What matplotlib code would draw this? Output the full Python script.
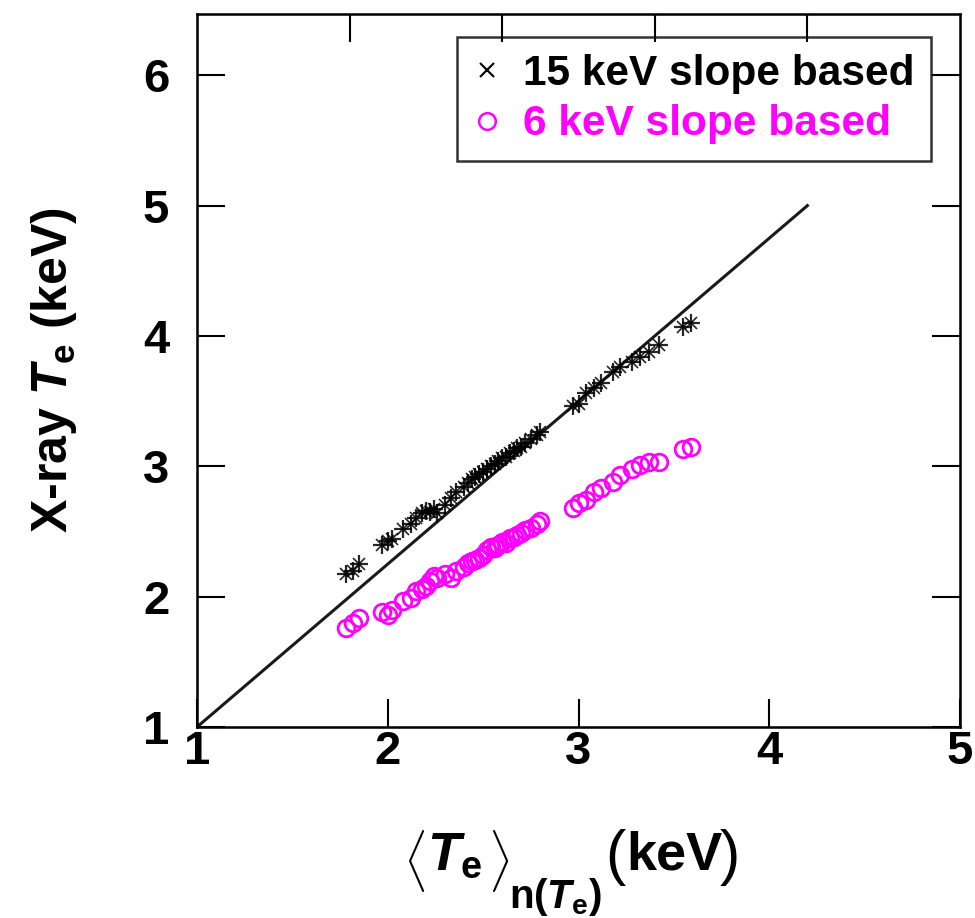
import matplotlib
matplotlib.use("Agg")
import matplotlib.pyplot as plt
from matplotlib.lines import Line2D

# mean Te for each shot (keV), shared by both series
te_mean = [1.78, 1.82, 1.85, 1.97, 2.00, 2.02, 2.08, 2.12, 2.15, 2.18,
           2.20, 2.22, 2.24, 2.26, 2.30, 2.33, 2.36, 2.40, 2.42, 2.44,
           2.46, 2.48, 2.50, 2.52, 2.54, 2.56, 2.58, 2.60, 2.62, 2.64,
           2.66, 2.68, 2.70, 2.72, 2.75, 2.78, 2.80, 2.97, 3.00, 3.04,
           3.08, 3.12, 3.18, 3.22, 3.28, 3.32, 3.37, 3.42, 3.55, 3.59]

# X-ray Te from the 15 keV slope
te_15kev = [2.17, 2.20, 2.25, 2.40, 2.43, 2.44, 2.52, 2.56, 2.60, 2.64,
            2.66, 2.65, 2.67, 2.64, 2.70, 2.76, 2.80, 2.84, 2.87, 2.90,
            2.92, 2.94, 2.96, 2.98, 3.00, 3.02, 3.04, 3.06, 3.07, 3.10,
            3.12, 3.14, 3.15, 3.18, 3.21, 3.24, 3.26, 3.46, 3.48, 3.56,
            3.60, 3.64, 3.72, 3.76, 3.80, 3.84, 3.88, 3.93, 4.07, 4.10]

# X-ray Te from the 6 keV slope
te_6kev = [1.76, 1.80, 1.84, 1.88, 1.86, 1.90, 1.97, 1.99, 2.04, 2.06,
           2.08, 2.12, 2.16, 2.14, 2.17, 2.14, 2.20, 2.23, 2.26, 2.27,
           2.28, 2.30, 2.32, 2.36, 2.38, 2.37, 2.40, 2.42, 2.41, 2.45,
           2.46, 2.47, 2.49, 2.51, 2.53, 2.56, 2.58, 2.68, 2.72, 2.74,
           2.80, 2.83, 2.88, 2.93, 2.98, 3.01, 3.03, 3.03, 3.13, 3.15]

# reference line
ref_x = [1.0, 4.2]
ref_y = [1.0, 5.0]

x_ticks = [1, 2, 3, 4, 5]
y_ticks = [1, 2, 3, 4, 5, 6]
top_ticks = [1.8, 2.6, 3.4, 4.2]

MAGENTA = "#ff00ff"
W, H = 975, 918

plt.rcParams["font.family"] = ["Liberation Sans", "DejaVu Sans"]
plt.rcParams["font.weight"] = "bold"
plt.rcParams["mathtext.fontset"] = "custom"
plt.rcParams["mathtext.rm"] = "Liberation Sans:bold"
plt.rcParams["mathtext.bf"] = "Liberation Sans:bold"
plt.rcParams["mathtext.it"] = "Liberation Sans:bold:italic"


def put(fig, px, py, s, **kw):
    # place text using pixel coords measured from the top-left corner
    fig.text(px / W, 1 - py / H, s, **kw)


def xlabel_pieces(fig):
    """<Te>_n(Te) (keV) built from pieces so the brackets can be tall"""
    thin = dict(fontweight="normal", ha="center", va="center")
    put(fig, 414, 861, r"$\langle$", fontsize=37, **thin)
    put(fig, 427, 870, r"$T_\mathrm{e}$", fontsize=39, va="baseline")
    put(fig, 499, 861, r"$\rangle$", fontsize=37, **thin)
    put(fig, 509, 908, r"$\mathrm{n}(T_\mathrm{e})$", fontsize=29,
        va="baseline")
    put(fig, 615, 857, "(", fontsize=44, **thin)
    put(fig, 626, 870, "keV", fontsize=39, fontweight="bold",
        va="baseline")
    put(fig, 730, 857, ")", fontsize=44, **thin)


def main():
    fig = plt.figure(figsize=(W / 100, H / 100), dpi=100)
    ax = fig.add_axes([197 / W, 1 - 727 / H, 763 / W, 713 / H])

    ax.plot(ref_x, ref_y, color="#1a1a1a", lw=2.2, zorder=2)
    ax.plot(te_mean, te_15kev, ls="none", marker="+", ms=13, mew=1.6,
            color="black", alpha=0.85, zorder=3)
    ax.plot(te_mean, te_15kev, ls="none", marker="x", ms=8, mew=1.2,
            color="black", alpha=0.85, zorder=3)
    ax.plot(te_mean, te_6kev, ls="none", marker="o", ms=12, mew=2.0,
            mfc="none", mec=MAGENTA, zorder=3)

    ax.set_xlim(1, 5)
    ax.set_ylim(1, 6.47)
    ax.set_xticks(x_ticks)
    ax.set_yticks(y_ticks)
    ax.tick_params(direction="in", length=20, width=1.5, labelsize=34,
                   right=True)
    ax.tick_params(axis="x", pad=2)
    ax.tick_params(axis="y", pad=20)
    for s in ax.spines.values():
        s.set_linewidth(1.8)

    top = ax.twiny()
    top.set_xlim(1, 5)
    top.set_xticks(top_ticks)
    top.tick_params(direction="in", length=20, width=1.5, labeltop=False)

    ax.set_ylabel(r"X-ray $T_\mathrm{e}$ (keV)", fontsize=36,
                  fontweight="bold", labelpad=46)
    xlabel_pieces(fig)

    handles = [
        Line2D([], [], ls="none", marker="x", ms=10, mew=1.5, color="black"),
        Line2D([], [], ls="none", marker="o", ms=12, mew=1.8,
               mfc="none", mec=MAGENTA),
    ]
    leg = ax.legend(handles, ["15 keV slope based", "6 keV slope based"],
                    loc="upper right", bbox_to_anchor=(0.962, 0.968),
                    fontsize=30.5, frameon=True, fancybox=False,
                    handlelength=0.6, handletextpad=0.55, borderpad=0.4,
                    labelspacing=0.25, borderaxespad=0)
    leg.get_frame().set_edgecolor("black")
    leg.get_frame().set_linewidth(1.8)
    for txt, col in zip(leg.get_texts(), ["black", MAGENTA]):
        txt.set_color(col)
        txt.set_fontweight("bold")

    fig.savefig("out.png", dpi=100)
    plt.close(fig)


if __name__ == "__main__":
    main()
